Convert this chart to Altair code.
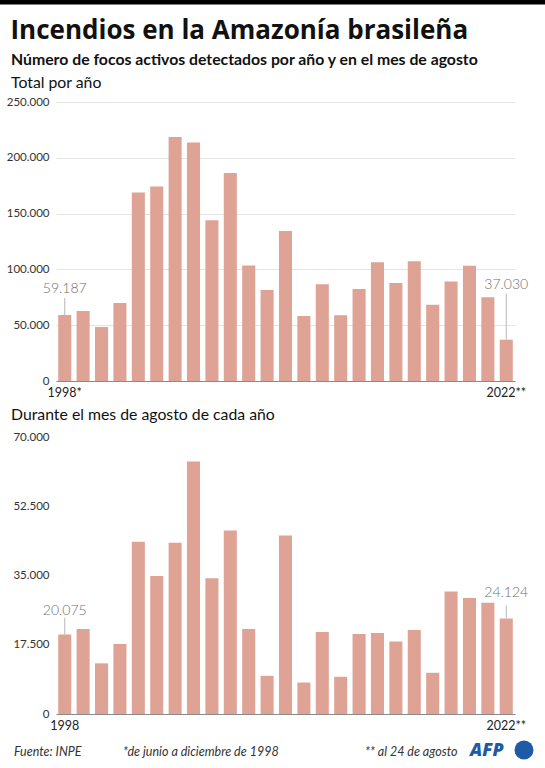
import altair as alt
import pandas as pd

FONT = "Lato"
BAR_COLOR = "#DFA396"

years = list(range(1998, 2023))
total_fires = [59187, 62700, 48400, 69900, 169000, 174200, 218600, 213700, 144000, 186400,
               103400, 81500, 134400, 58200, 86600, 58900, 82400, 106400, 87800, 107400,
               68300, 89200, 103200, 75100, 37030]
august_fires = [20075, 21460, 12800, 17670, 43500, 34900, 43300, 63800, 34300, 46400,
                21450, 9650, 45100, 7950, 20700, 9400, 20200, 20500, 18350, 21250,
                10420, 30950, 29300, 28100, 24124]

total_ticks = [0, 50000, 100000, 150000, 200000, 250000]
august_ticks = [0, 17500, 35000, 52500, 70000]
x_labels_total = {1998: "1998*", 2022: "2022**"}
x_labels_aug = {1998: "1998", 2022: "2022**"}

title_text = "Incendios en la Amazonía brasileña"
subtitle_text = "Número de focos activos detectados por año y en el mes de agosto"
panel1_title = "Total por año"
panel2_title = "Durante el mes de agosto de cada año"
footer_source = "Fuente: INPE"
footer_note1 = "*de junio a diciembre de 1998"
footer_note2 = "** al 24 de agosto"

df = pd.DataFrame({"year": years, "total": total_fires, "august": august_fires})

# layout (pixels, relative to the plot origin)
PW, PH = 459, 612
LEFT, TOP = 56, 102
P1_RANGE = [279, 0]
P2_RANGE = [612, 335]


def label_expr(labels):
    parts = " : ".join(f"datum.value == {k} ? '{v}'" for k, v in labels.items())
    return parts + " : ''"


def panel(field, ticks, labels, yrange, x_offset, annots):
    base = alt.Chart(df)
    x_enc = alt.X(
        "year:O",
        scale=alt.Scale(paddingInner=0.29, paddingOuter=0.12),
        axis=alt.Axis(values=list(labels.keys()), labelExpr=label_expr(labels), title=None,
                      orient="bottom", offset=x_offset,
                      ticks=False, domainColor="#8a8a8a", labelAngle=0, labelFontSize=12.5,
                      labelColor="#222", labelPadding=5, labelFont=FONT, grid=False),
    )
    y_enc = alt.Y(
        f"{field}:Q",
        scale=alt.Scale(domain=[ticks[0], ticks[-1]], range=yrange, nice=False),
        axis=alt.Axis(values=ticks, format=",d", title=None, ticks=False, domain=False,
                      orient="left", gridColor="#e4e4e4", labelPadding=7,
                      labelFontSize=11.5, labelColor="#333", labelFont=FONT),
    )
    layers = [base.mark_bar(color=BAR_COLOR).encode(x=x_enc, y=y_enc)]
    for yr, text_dy, line_len in annots:
        sub = base.transform_filter(alt.datum.year == yr)
        layers.append(
            sub.mark_rule(color="#b8b8b8", strokeWidth=1, y2Offset=-line_len).encode(
                x="year:O", y=f"{field}:Q", y2=alt.Y2(f"{field}:Q"))
        )
        layers.append(
            sub.mark_text(dy=text_dy, fontSize=14, color="#6e6e6e", font=FONT, fontWeight=300).encode(
                x="year:O", y=f"{field}:Q", text=alt.Text(f"{field}:Q", format=",d"))
        )
    return layers


one = alt.Data(values=[{}])


def text_at(txt, x, y, size, weight="normal", style="normal", font=FONT, color="#111",
            baseline="alphabetic"):
    return alt.Chart(one).mark_text(align="left", baseline=baseline, fontSize=size,
                                    fontWeight=weight, fontStyle=style, font=font,
                                    color=color).encode(
        x=alt.value(x - LEFT), y=alt.value(y - TOP), text=alt.value(txt))


decor = [
    alt.Chart(one).mark_rect(color="#000").encode(
        x=alt.value(-LEFT), x2=alt.value(545 - LEFT), y=alt.value(-TOP), y2=alt.value(4.5 - TOP)),
    text_at(title_text, 10.5, 38.5, 26, weight="bold", font="Open Sans"),
    text_at(subtitle_text, 11, 65, 15.8, weight="bold"),
    text_at(panel1_title, 11, 88, 15.8),
    text_at(panel2_title, 11, 420, 15.8),
    text_at(footer_source, 14, 752, 12.5, style="italic", color="#333", baseline="middle"),
    text_at(footer_note1, 123, 752, 12.5, style="italic", color="#333", baseline="middle"),
    text_at(footer_note2, 365, 752, 12.5, style="italic", color="#333", baseline="middle"),
    text_at("AFP", 470, 751, 18, weight=800, style="italic", font="Open Sans",
            color="#1F5AA6", baseline="middle"),
    alt.Chart(one).mark_point(filled=True, opacity=1, color="#1F5AA6", size=360, shape="circle").encode(
        x=alt.value(524 - LEFT), y=alt.value(750 - TOP)),
]

p1 = alt.layer(*panel("total", total_ticks, x_labels_total, P1_RANGE,
                      P1_RANGE[0] - PH, [(1998, -26, 17), (2022, -55, 46)]), *decor)
p2 = alt.layer(*panel("august", august_ticks, x_labels_aug, P2_RANGE,
                      0, [(1998, -24, 17), (2022, -26, 13)]))

chart = alt.layer(p1, p2).resolve_scale(y="independent").resolve_axis(
    x="independent", y="independent"
).properties(
    width=PW, height=PH,
    padding={"left": 0, "top": 0, "right": 0, "bottom": 0},
).configure(
    locale={"number": {"decimal": ",", "thousands": ".", "grouping": [3], "currency": ["", " €"]}}
).configure_view(strokeWidth=0)

chart.save("out.html", embed_options={"renderer": "svg", "actions": False})
